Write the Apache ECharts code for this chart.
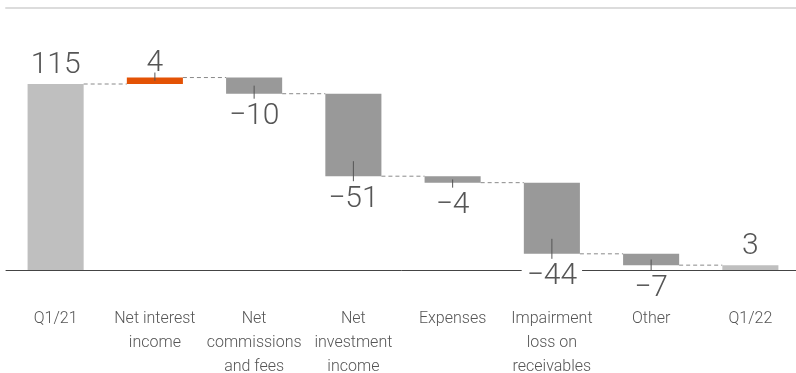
<!DOCTYPE html>
<html>
<head>
<meta charset="utf-8">
<script src="https://cdn.jsdelivr.net/npm/echarts@6/dist/echarts.min.js"></script>
<style>
html,body{margin:0;padding:0;background:#fff;overflow:hidden;}
#chart{width:796px;height:373px;}
</style>
</head>
<body>
<div id="chart"></div>
<script>
// ---- data ----
const categories = ['Q1/21', 'Net interest\nincome', 'Net\ncommissions\nand fees', 'Net\ninvestment\nincome', 'Expenses', 'Impairment\nloss on\nreceivables', 'Other', 'Q1/22'];
const values = [115, 4, -10, -51, -4, -44, -7, 3];
const isTotal = [1, 0, 0, 0, 0, 0, 0, 1];
const valueLabels = ['115', '4', '\u221210', '\u221251', '\u22124', '\u221244', '\u22127', '3'];

// build waterfall rows: [index, base, end, value, total]
const rows = [];
let running = 0;
values.forEach((v, i) => {
  let base, end;
  if (isTotal[i]) { base = 0; end = v; running = v; }
  else { base = running; end = running + v; running = end; }
  rows.push([i, base, end, v, isTotal[i]]);
});

const FONT = 'Roboto, "Noto Sans", sans-serif';
const chart = echarts.init(document.getElementById('chart'), null, {renderer: 'canvas'});

function renderItem(params, api) {
  const i = api.value(0), base = api.value(1), end = api.value(2), v = api.value(3), total = api.value(4);
  const band = api.size([1, 0])[0];
  const barW = band * 0.565;
  const lo = Math.min(base, end), hi = Math.max(base, end);
  const pLo = api.coord([i, lo]), pHi = api.coord([i, hi]);
  const x = pLo[0] - barW / 2;
  const yTop = pHi[1], yBot = pLo[1];
  const h = yBot - yTop;
  let color = total ? '#bfbfbf' : (v < 0 ? '#999999' : '#e35205');
  const children = [{
    type: 'rect',
    shape: {x: x, y: yTop, width: barW, height: h},
    style: {fill: color}
  }];
  // connector to next bar
  if (i < rows.length - 1) {
    const yc = api.coord([i, end])[1];
    children.push({
      type: 'line',
      shape: {x1: x + barW, y1: yc, x2: x + band, y2: yc},
      style: {stroke: '#8a8a8a', lineWidth: 1, lineDash: [4, 3]}
    });
  }
  const cx = pLo[0];
  let ty;
  if (total) {
    ty = yTop - 19;
  } else if (v > 0) {
    const d = Math.min(15, h / 2);
    children.push({type: 'line', shape: {x1: cx, y1: yTop + d, x2: cx, y2: yTop - 5},
      style: {stroke: '#555', lineWidth: 1}});
    ty = yTop - 14;
  } else {
    const d = Math.min(15, h / 2);
    children.push({type: 'line', shape: {x1: cx, y1: yBot - d, x2: cx, y2: yBot + 5},
      style: {stroke: '#555', lineWidth: 1}});
    ty = yBot + 23;
  }
  children.push({
    type: 'text',
    z2: 10,
    style: {
      x: cx, y: ty,
      text: valueLabels[i],
      align: 'center', verticalAlign: 'middle',
      font: '300 30px ' + FONT,
      fill: '#555',
      lineHeight: 22,
      backgroundColor: v < 0 && !total ? '#fff' : null,
      padding: [0, 5]
    }
  });
  return {type: 'group', children: children};
}

chart.setOption({
  animation: false,
  grid: {left: 6, right: -4, top: 8, bottom: 103, outerBoundsMode: 'none', containLabel: false},
  xAxis: [{
    type: 'category',
    data: categories,
    axisLine: {lineStyle: {color: '#444', width: 1}},
    axisTick: {show: false},
    axisLabel: {
      interval: 0, margin: 37, color: '#555',
      fontFamily: FONT, fontWeight: 300, fontSize: 16, lineHeight: 24,
      verticalAlign: 'top'
    }
  }, {
    type: 'category',
    data: categories,
    position: 'top',
    axisLine: {lineStyle: {color: '#dcdcdc', width: 2}},
    axisTick: {show: false},
    axisLabel: {show: false}
  }],
  yAxis: {
    type: 'value', min: 0, max: 162,
    show: false,
    splitLine: {show: false}
  },
  series: [{
    type: 'custom',
    renderItem: renderItem,
    encode: {x: 0, y: [1, 2]},
    data: rows,
    z: 5
  }]
});
</script>
</body>
</html>
